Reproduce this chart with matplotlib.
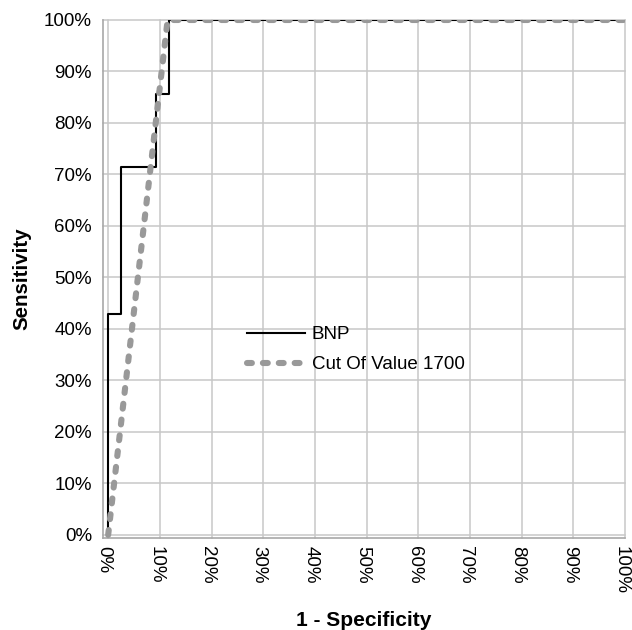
import matplotlib
matplotlib.use("Agg")
import matplotlib.pyplot as plt
import matplotlib.transforms as mtransforms
from matplotlib.ticker import FuncFormatter

plt.rcParams['font.family'] = ['Liberation Sans', 'DejaVu Sans']

# ROC points
bnp_fpr = [0.0, 0.0, 0.025, 0.093, 0.118, 1.0]
bnp_tpr = [0.0, 3 / 7, 5 / 7, 6 / 7, 1.0, 1.0]
cut_fpr = [0.0, 0.115, 1.0]
cut_tpr = [0.0, 1.0, 1.0]
ticks = [i / 10 for i in range(11)]

fig = plt.figure(figsize=(6.32, 6.30), dpi=100)
ax = fig.add_axes([103 / 632, 92 / 630, 522 / 632, 518 / 630])

ax.plot(bnp_fpr, bnp_tpr, drawstyle='steps-post', color='black', lw=1.5,
        label='BNP', zorder=3)
ax.plot(cut_fpr, cut_tpr, color='#999999', lw=4.4, dashes=(0.8, 1.8),
        dash_capstyle='round', label='Cut Of Value 1700', zorder=4)

ax.set_xlim(-0.01, 1.0)
ax.set_ylim(-0.006, 1.0)
ax.set_xticks(ticks)
ax.set_yticks(ticks)
pct = FuncFormatter(lambda v, p: '%d%%' % round(v * 100))
ax.xaxis.set_major_formatter(pct)
ax.yaxis.set_major_formatter(pct)
ax.tick_params(length=0, labelsize=13.5, pad=8)
ax.tick_params(axis='x', labelrotation=-90, pad=6)
# x labels sit a bit left of their gridlines
shift = mtransforms.ScaledTranslation(-4 / 100, 0, fig.dpi_scale_trans)
for lab in ax.xaxis.get_majorticklabels():
    lab.set_transform(lab.get_transform() + shift)
ax.grid(True, color='#c8c8c8', lw=1.1)
ax.set_axisbelow(True)
for g in ax.get_xgridlines() + ax.get_ygridlines():
    g.set_clip_on(False)

for s in ['top', 'right']:
    ax.spines[s].set_visible(False)
for s in ['left', 'bottom']:
    ax.spines[s].set_color('#a8a8a8')
    ax.spines[s].set_linewidth(1.2)

ax.set_ylabel('Sensitivity', fontsize=14.8, fontweight='bold', labelpad=9)
ax.set_xlabel('1 - Specificity', fontsize=15, fontweight='bold', labelpad=12)

leg = ax.legend(loc='upper left', bbox_to_anchor=(247 / 632, 1 - 326 / 630),
                bbox_transform=fig.transFigure, frameon=False, fontsize=13.5,
                handlelength=3.1, handletextpad=0.35, labelspacing=0.7,
                borderpad=0, borderaxespad=0)

fig.savefig('out.png', dpi=100)
